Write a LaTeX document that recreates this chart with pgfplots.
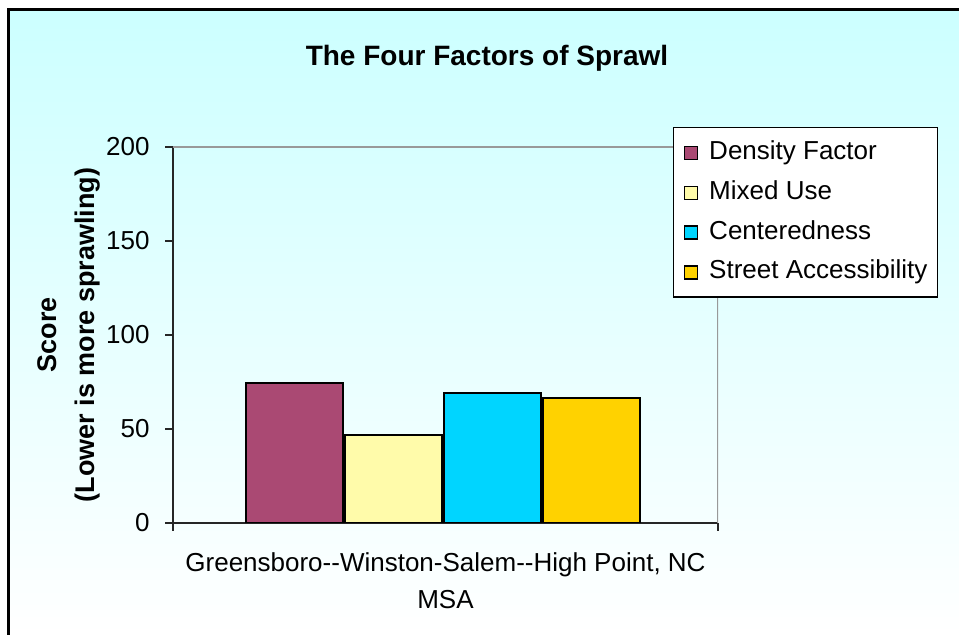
\documentclass[border=0pt]{standalone}
\usepackage{pgfplots}
\pgfplotsset{compat=1.18}
\usepackage{fontspec}
\setmainfont{Liberation Sans}
\definecolor{cDen}{RGB}{170,73,115}
\definecolor{cMix}{RGB}{255,251,170}
\definecolor{cCen}{RGB}{0,213,255}
\definecolor{cStr}{RGB}{255,210,0}
\definecolor{bgTop}{RGB}{204,255,255}
\begin{document}
\begin{tikzpicture}[x=1bp,y=1bp]
\path[use as bounding box] (0,0) rectangle (959,635);
\shade[top color=bgTop, bottom color=white] (8,0) rectangle (959,625);
\draw[black, line width=3bp] (8,-2) -- (8,625) -- (961,625);
\node[font=\fontsize{28bp}{32bp}\selectfont\bfseries] at (487,577) {The Four Factors of Sprawl};
\begin{axis}[
  at={(173bp,112bp)}, anchor=south west,
  scale only axis, width=545bp, height=376bp,
  xmin=-0.495, xmax=0.505, ymin=0, ymax=200,
  axis x line*=bottom, axis y line*=left,
  axis line style={line width=2bp, draw=black!85, -},
  ytick={0,50,100,150,200},
  xtick={-0.495,0.505}, xticklabels={},
  tick align=outside, major tick length=8bp,
  tick style={line width=2bp, black!85},
  /pgf/number format/assume math mode=true,
  yticklabel style={font=\fontsize{26bp}{30bp}\selectfont, xshift=-12bp},
  xlabel={Greensboro-{}-Winston-Salem-{}-High Point, NC\\MSA},
  xlabel style={font=\fontsize{26bp}{37bp}\selectfont, align=center, at={(rel axis cs:0.5,0)}, anchor=north, yshift=-26bp},
  ylabel={Score\\(Lower is more sprawling)},
  ylabel style={font=\fontsize{27bp}{38bp}\selectfont\bfseries, align=center, at={(rel axis cs:-0.1908,0.5)}, anchor=center},
  ybar=2bp, bar width=97bp,
  every axis plot/.append style={draw=black, line width=2bp},
  legend image code/.code={\draw[#1, line width=1.5bp] (0bp,-7bp) rectangle (13bp,6bp);},
  legend cell align=left,
  legend style={at={(rel axis cs:0.9174,1.0532)}, anchor=north west, draw=black, line width=1.5bp, fill=white,
    font=\fontsize{26bp}{30bp}\selectfont,
    nodes={inner sep=0pt, text height=19bp, text depth=5bp},
    inner xsep=10bp, inner ysep=13bp, row sep=15.7bp, column sep=11bp},
]
\draw[black!40, line width=1.5bp] (rel axis cs:0,1) -- (rel axis cs:1,1) -- (rel axis cs:1,0);
\addplot[fill=cDen] coordinates {(0,74.6)};
\addplot[fill=cMix] coordinates {(0,46.8)};
\addplot[fill=cCen] coordinates {(0,69.1)};
\addplot[fill=cStr] coordinates {(0,66.4)};
\legend{Density Factor, Mixed Use, Centeredness, Street Accessibility}
\end{axis}
\end{tikzpicture}
\end{document}
